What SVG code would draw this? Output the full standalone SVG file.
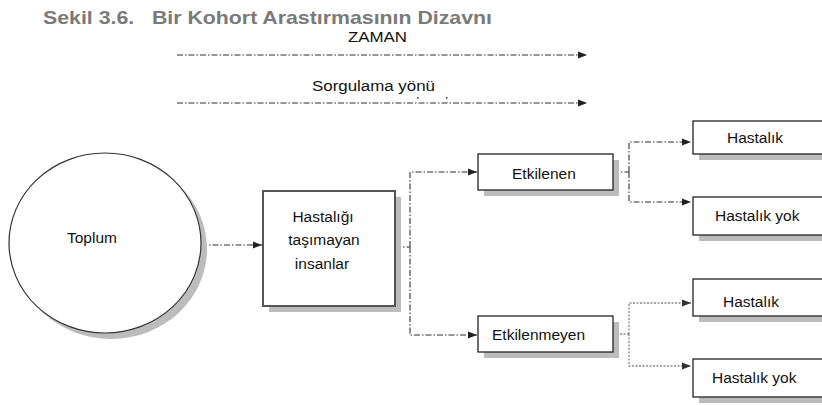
<svg xmlns="http://www.w3.org/2000/svg" width="822" height="405" viewBox="0 0 822 405">
<defs>
<marker id="ah" markerWidth="10" markerHeight="8" refX="9" refY="4" orient="auto" markerUnits="userSpaceOnUse">
<path d="M0,0.5 L9,4 L0,7.5 Z" fill="#222"/>
</marker>
<marker id="ahg" markerWidth="10" markerHeight="8" refX="9" refY="4" orient="auto" markerUnits="userSpaceOnUse">
<path d="M0,0.5 L9,4 L0,7.5 Z" fill="#333"/>
</marker>
</defs>
<style>
.t{font-family:"Liberation Sans",Arial,sans-serif;font-size:15.5px;fill:#111}
.title{font-family:"Liberation Sans",Arial,sans-serif;font-size:19px;font-weight:bold;fill:#7a7a7a}
.box{fill:#fff;stroke:#222;stroke-width:1.3}
.sh{fill:#bcbcbc}
.dd{fill:none;stroke:#333;stroke-width:1.1;stroke-dasharray:6 2 1.5 2}
.dot{fill:none;stroke:#888;stroke-width:1.3;stroke-dasharray:2 1.5}
</style>
<rect width="822" height="405" fill="#fff"/>
<text class="title" x="43" y="24" textLength="449" lengthAdjust="spacingAndGlyphs" xml:space="preserve">Sekil 3.6.   Bir Kohort Arastırmasının Dizavnı</text>
<text class="t" x="348" y="42" textLength="59" lengthAdjust="spacingAndGlyphs">ZAMAN</text>
<text class="t" x="312" y="91" textLength="123" lengthAdjust="spacingAndGlyphs">Sorgulama yönü</text>
<rect x="417" y="97" width="1.5" height="1.5" fill="#333"/>
<rect x="446" y="97" width="1.5" height="1.5" fill="#333"/>

<g id="connectors">
<path class="dd" d="M177,55 H587" marker-end="url(#ah)"/>
<path class="dd" d="M177,103 H587" marker-end="url(#ah)"/>
<path class="dd" d="M201,245 H262" marker-end="url(#ah)"/>
<path class="dd" d="M395,247 H410"/>
<path class="dd" d="M410,247 V172 H477" marker-end="url(#ah)"/>
<path class="dd" d="M410,247 V335 H477" marker-end="url(#ah)"/>
<path class="dd" d="M613,172 H629"/>
<path class="dd" d="M629,172 V142 H691" marker-end="url(#ah)"/>
<path class="dd" d="M629,172 V202 H691" marker-end="url(#ah)"/>
<path class="dot" d="M613,334 H629"/>
<path class="dot" d="M629,334 V303 H691" marker-end="url(#ahg)"/>
<path class="dot" d="M629,334 V366 H691" marker-end="url(#ahg)"/>
</g>

<g id="toplum">
<ellipse class="sh" cx="111" cy="249" rx="96" ry="90"/>
<ellipse cx="105" cy="243" rx="96" ry="90" fill="#fff" stroke="#333" stroke-width="1.2"/>
<text class="t" x="67" y="243">Toplum</text>
</g>

<g id="hastaligi">
<rect class="sh" x="269" y="197" width="132" height="115"/>
<rect x="263" y="191" width="132" height="115" fill="#fff" stroke="#555" stroke-width="2"/>
<text class="t" x="323" y="222" text-anchor="middle">Hastalığı</text>
<text class="t" x="324" y="245" text-anchor="middle">taşımayan</text>
<text class="t" x="322" y="269" text-anchor="middle">insanlar</text>
</g>

<g id="etkilenen">
<rect class="sh" x="484" y="160" width="135" height="36"/>
<rect class="box" x="478" y="154" width="135" height="36"/>
<text class="t" x="512" y="179">Etkilenen</text>
</g>

<g id="etkilenmeyen">
<rect class="sh" x="484" y="322" width="135" height="36"/>
<rect class="box" x="478" y="316" width="135" height="36"/>
<text class="t" x="492" y="340">Etkilenmeyen</text>
</g>

<g id="hastalik1">
<rect class="sh" x="699" y="127" width="140" height="33"/>
<rect class="box" x="693" y="121" width="140" height="33"/>
<text class="t" x="727" y="143">Hastalık</text>
</g>

<g id="hastalikyok1">
<rect class="sh" x="699" y="203" width="140" height="38"/>
<rect class="box" x="693" y="197" width="140" height="38"/>
<text class="t" x="715" y="221">Hastalık yok</text>
</g>

<g id="hastalik2">
<rect class="sh" x="699" y="285" width="140" height="37"/>
<rect class="box" x="693" y="279" width="140" height="37"/>
<text class="t" x="723" y="307">Hastalık</text>
</g>

<g id="hastalikyok2">
<rect class="sh" x="699" y="365" width="140" height="38"/>
<rect class="box" x="693" y="359" width="140" height="38"/>
<text class="t" x="712" y="383">Hastalık yok</text>
</g>
</svg>
